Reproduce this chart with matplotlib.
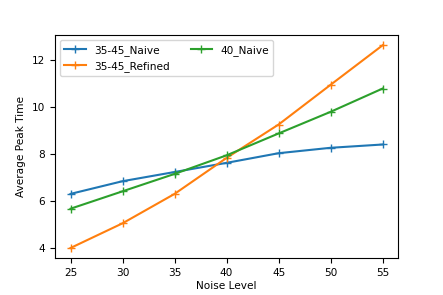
import matplotlib
matplotlib.use('Agg')
import matplotlib.pyplot as plt

noise_levels = [25, 30, 35, 40, 45, 50, 55]
naive_35_45 = [6.30, 6.84, 7.23, 7.62, 8.03, 8.26, 8.40]
refined_35_45 = [4.00, 5.05, 6.30, 7.83, 9.25, 10.94, 12.62]
naive_40 = [5.67, 6.41, 7.15, 7.94, 8.87, 9.79, 10.78]

plt.rcParams['font.size'] = 7.6
fig, ax = plt.subplots(figsize=(4.43, 2.95), dpi=100)
fig.subplots_adjust(left=0.124, right=0.899, top=0.881, bottom=0.125)
ax.plot(noise_levels, naive_35_45, marker='+', label='35-45_Naive')
ax.plot(noise_levels, refined_35_45, marker='+', label='35-45_Refined')
ax.plot(noise_levels, naive_40, marker='+', label='40_Naive')
ax.set_xlabel('Noise Level', labelpad=2)
ax.set_ylabel('Average Peak Time')
ax.set_yticks([4, 6, 8, 10, 12])
ax.legend(ncol=2, loc='upper left')
fig.savefig('out.png', dpi=100)
